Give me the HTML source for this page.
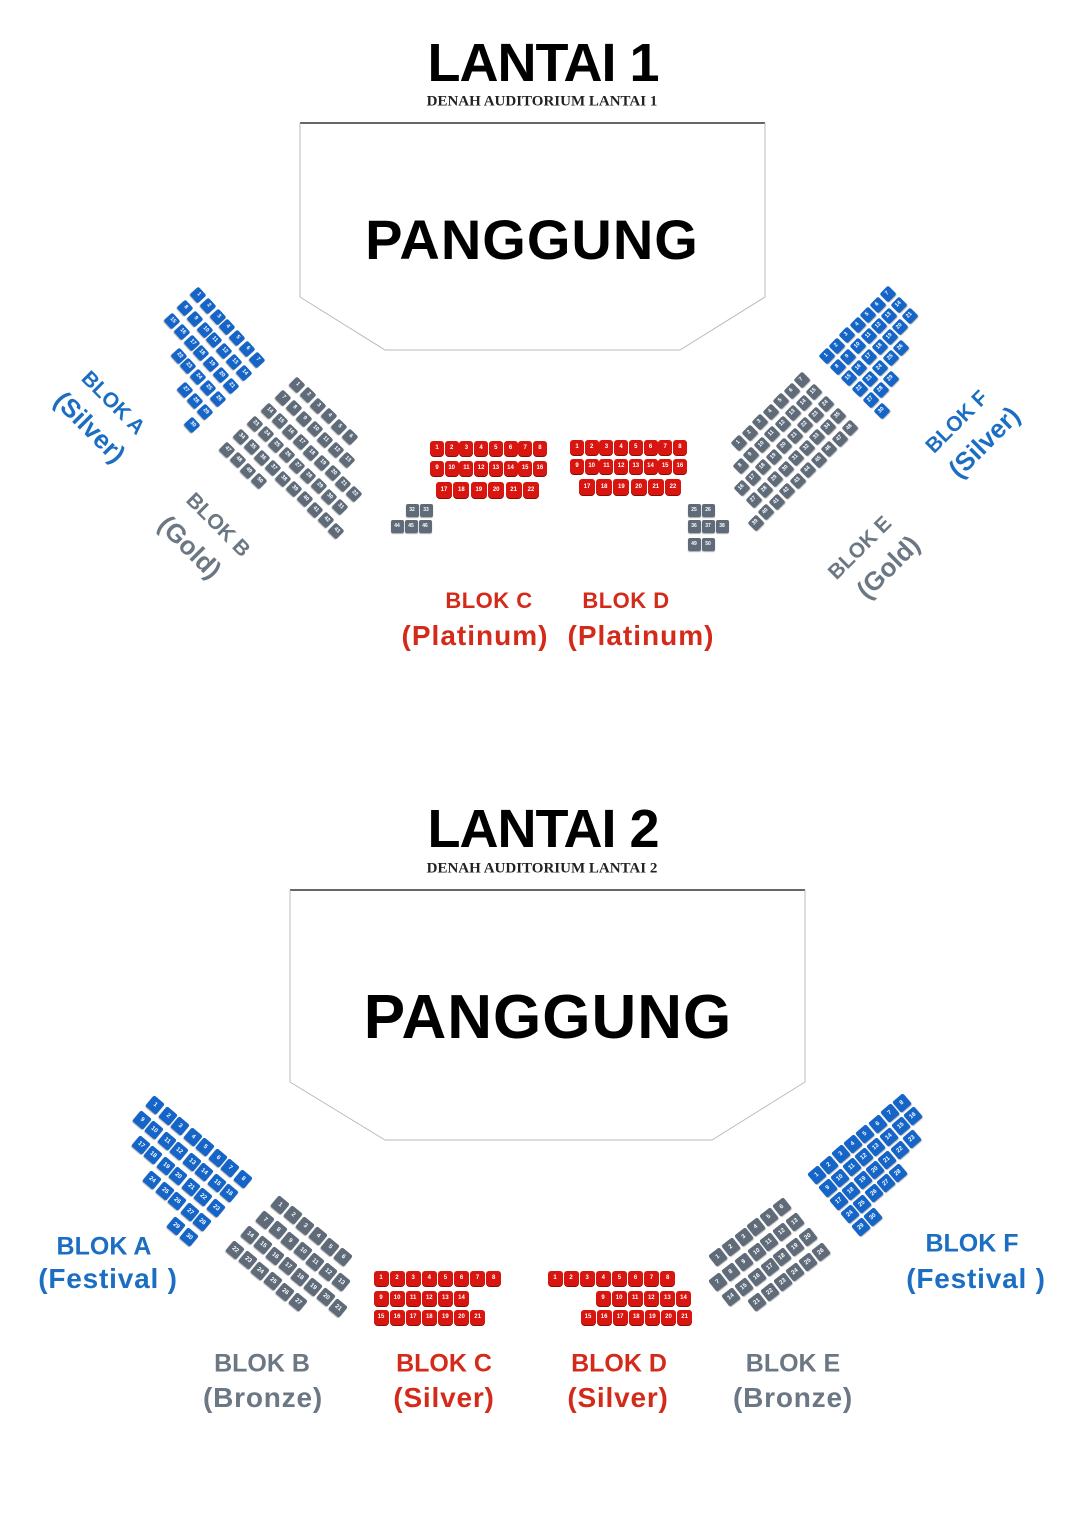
<!DOCTYPE html>
<html><head><meta charset="utf-8">
<style>
html,body{margin:0;padding:0;background:#fff;}
#c{position:relative;width:1085px;height:1536px;overflow:hidden;background:#fff;font-family:"Liberation Sans",Arial,sans-serif;}
.t{position:absolute;transform:translate(-50%,-50%);white-space:nowrap;line-height:1;}
.title{font-weight:bold;font-size:54px;letter-spacing:-1px;color:#000;}
.sub{font-family:"Liberation Serif",serif;font-weight:bold;font-size:15px;color:#222;}
.stage{font-weight:bold;color:#000;letter-spacing:1px;}
.blue{color:#1b6ec2;font-weight:bold;}
.gray{color:#6c7784;font-weight:bold;}
.red{color:#d42a1a;font-weight:bold;}
.s{position:absolute;border-radius:2px;color:#fff;font-size:5px;font-weight:bold;display:flex;align-items:center;justify-content:center;line-height:1;box-shadow:0 1px 1px rgba(0,0,0,.35);}
.sb{background:#1565c8;}
.sg{background:#5f6b79;}
.sr{background:#d8150f;border-radius:3px 3px 4px 4px;box-shadow:0 1px 0 #8a0a06;}
</style></head><body>
<div id="c">
<svg width="1085" height="1536" style="position:absolute;left:0;top:0">
  <line x1="300" y1="123" x2="765" y2="123" stroke="#666" stroke-width="2"/>
  <polyline points="300,123 300,297 385,350 680,350 765,297 765,123" fill="none" stroke="#bbb" stroke-width="1"/>
  <line x1="290" y1="890" x2="805" y2="890" stroke="#666" stroke-width="2"/>
  <polyline points="290,890 290,1082 385,1140 712,1140 805,1082 805,890" fill="none" stroke="#bbb" stroke-width="1"/>
</svg>

<div class="t title" style="left:543px;top:63px;">LANTAI 1</div>
<div class="t sub" style="left:542px;top:102px;">DENAH AUDITORIUM LANTAI 1</div>
<div class="t stage" style="left:532px;top:240px;font-size:56px;">PANGGUNG</div>

<div class="t title" style="left:543px;top:829px;">LANTAI 2</div>
<div class="t sub" style="left:542px;top:869px;">DENAH AUDITORIUM LANTAI 2</div>
<div class="t stage" style="left:548px;top:1018px;font-size:62px;">PANGGUNG</div>

<!-- L1 labels -->
<div class="t blue" style="left:113px;top:403px;font-size:21px;transform:translate(-50%,-50%) rotate(45deg);">BLOK A</div>
<div class="t blue" style="left:90px;top:427px;font-size:26px;transform:translate(-50%,-50%) rotate(45deg);">(Silver)</div>
<div class="t gray" style="left:218px;top:525px;font-size:21px;transform:translate(-50%,-50%) rotate(45deg);">BLOK B</div>
<div class="t gray" style="left:190px;top:547px;font-size:26px;transform:translate(-50%,-50%) rotate(45deg);">(Gold)</div>
<div class="t blue" style="left:957px;top:422px;font-size:21px;transform:translate(-50%,-50%) rotate(-45deg);">BLOK F</div>
<div class="t blue" style="left:984px;top:442px;font-size:26px;transform:translate(-50%,-50%) rotate(-45deg);">(Silver)</div>
<div class="t gray" style="left:860px;top:548px;font-size:21px;transform:translate(-50%,-50%) rotate(-45deg);">BLOK E</div>
<div class="t gray" style="left:888px;top:567px;font-size:26px;transform:translate(-50%,-50%) rotate(-45deg);">(Gold)</div>
<div class="t red" style="left:489px;top:601px;font-size:22px;letter-spacing:0.5px;">BLOK C</div>
<div class="t red" style="left:475px;top:636px;font-size:28px;letter-spacing:1px;">(Platinum)</div>
<div class="t red" style="left:626px;top:601px;font-size:22px;letter-spacing:0.5px;">BLOK D</div>
<div class="t red" style="left:641px;top:636px;font-size:28px;letter-spacing:1px;">(Platinum)</div>

<!-- L2 labels -->
<div class="t blue" style="left:104px;top:1247px;font-size:25px;">BLOK A</div>
<div class="t blue" style="left:108px;top:1279px;font-size:28px;letter-spacing:0.8px;">(Festival )</div>
<div class="t blue" style="left:972px;top:1244px;font-size:25px;">BLOK F</div>
<div class="t blue" style="left:976px;top:1279px;font-size:28px;letter-spacing:0.8px;">(Festival )</div>
<div class="t gray" style="left:262px;top:1364px;font-size:25px;">BLOK B</div>
<div class="t gray" style="left:263px;top:1398px;font-size:28px;letter-spacing:0.8px;">(Bronze)</div>
<div class="t red" style="left:444px;top:1364px;font-size:25px;">BLOK C</div>
<div class="t red" style="left:444px;top:1398px;font-size:28px;letter-spacing:0.8px;">(Silver)</div>
<div class="t red" style="left:619px;top:1364px;font-size:25px;">BLOK D</div>
<div class="t red" style="left:618px;top:1398px;font-size:28px;letter-spacing:0.8px;">(Silver)</div>
<div class="t gray" style="left:793px;top:1364px;font-size:25px;">BLOK E</div>
<div class="t gray" style="left:793px;top:1398px;font-size:28px;letter-spacing:0.8px;">(Bronze)</div>
</div>
<script>
var C=document.getElementById('c');
function seat(x,y,w,h,cls,n,rot,fs){
  var d=document.createElement('div');d.className='s '+cls;
  d.style.left=(x-w/2)+'px';d.style.top=(y-h/2)+'px';d.style.width=w+'px';d.style.height=h+'px';
  if(rot)d.style.transform='rotate('+rot+'deg)';
  if(fs)d.style.fontSize=fs+'px';
  d.textContent=n;C.appendChild(d);
}
function block(p,u,v,rows,cls,sz,fs){
  var ang=Math.atan2(u[1],u[0])*180/Math.PI;
  rows.forEach(function(r,ri){
    for(var k=0;k<r[0];k++){
      var c=r[1]+k;
      var x=p[0]+v[0]*ri+u[0]*c, y=p[1]+v[1]*ri+u[1]*c;
      seat(x,y,sz,sz,cls,r[2]+k,ang,fs);
    }
  });
}
function line(x0,dx,y,n,start,w,h,cls,fs){
  for(var k=0;k<n;k++)seat(x0+dx*k,y,w,h,cls,start+k,0,fs);
}
// Lantai 1
block([198,295],[9.8,10.8],[-13,13],[[7,0,1],[7,0,8],[7,0,15],[5,2,22],[3,4,27],[1,6,30]],'sb',12,5.5);
block([297,385],[10.6,10.4],[-14,13],[[6,0,1],[7,0,7],[9,0,14],[9,0,23],[10,0,34],[4,0,47]],'sg',12,5.5);
block([827,356],[10.2,-10.3],[11,11],[[7,0,1],[7,0,8],[7,0,15],[5,0,22],[3,0,27],[1,0,30]],'sb',12,5.5);
block([739,443],[10.5,-10.5],[12,12],[[7,0,1],[8,-1,8],[9,-2,16],[9,-2,27],[10,-3,39]],'sg',12,5.5);
// small gray groups L1
seat(412,510,13,13,'sg',32,0,5);seat(426,510,13,13,'sg',33,0,5);
seat(397,526,13,13,'sg',44,0,5);seat(411,526,13,13,'sg',45,0,5);seat(425,526,13,13,'sg',46,0,5);
seat(694,510,13,13,'sg',25,0,5);seat(708,510,13,13,'sg',26,0,5);
seat(694,526,13,13,'sg',36,0,5);seat(708,526,13,13,'sg',37,0,5);seat(722,526,13,13,'sg',38,0,5);
seat(694,544,13,13,'sg',49,0,5);seat(708,544,13,13,'sg',50,0,5);
// red L1
line(437,14.7,448,8,1,14,15,'sr',6);line(437,14.7,468,8,9,14,15,'sr',6);line(444,17.4,490,6,17,16,16,'sr',6);
line(577,14.7,447,8,1,14,15,'sr',6);line(577,14.7,466,8,9,14,15,'sr',6);line(587,17.2,487,6,17,16,16,'sr',6);
// Lantai 2
block([155,1105],[12.5,10.5],[-13.5,14.5],[[8,0,1],[8,0,9],[7,1,17],[5,3,24],[2,6,29]],'sb',14,6);
block([280,1205],[12.6,10.4],[-15,15],[[6,0,1],[7,0,7],[8,0,14],[6,0,22]],'sg',14,6);
block([817,1175],[12.1,-10.3],[11,13],[[8,0,1],[8,0,9],[7,0,17],[5,0,24],[2,0,29]],'sb',14,6);
block([718,1257],[12.8,-10],[13,15],[[6,0,1],[7,-1,7],[7,-1,14],[6,0,21]],'sg',14,6);
// red L2
line(381,16.1,1278,8,1,15,15,'sr',6);line(381,16.1,1298,6,9,15,15,'sr',6);line(381,16.1,1317,7,15,15,15,'sr',6);
line(555,16.1,1278,8,1,15,15,'sr',6);line(603,16.1,1298,6,9,15,15,'sr',6);line(588,16.1,1317,7,15,15,15,'sr',6);
</script>
</body></html>
